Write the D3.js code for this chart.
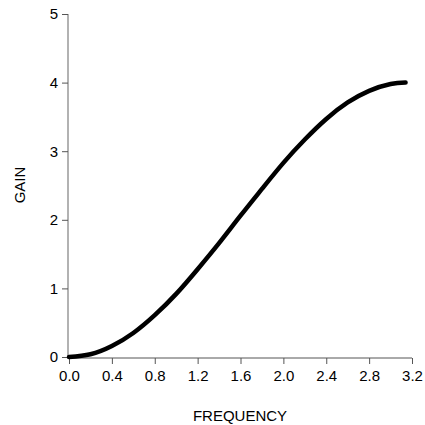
<!DOCTYPE html>
<html>
<head>
<meta charset="utf-8">
<script src="https://cdn.jsdelivr.net/npm/d3@7"></script>
<style>
  body { margin: 0; background: #fff; }
  text { font-family: "Liberation Sans", Arial, sans-serif; font-size: 15px; }
</style>
</head>
<body>
<div id="chart"></div>
<script>
const width = 425;
const height = 425;

// values
const freq = [0, 0.2, 0.4, 0.6, 0.8, 1.0, 1.2, 1.4, 1.6, 1.8, 2.0, 2.2, 2.4, 2.6, 2.8, 3.0, 3.14];
const gain = [0, 0.04, 0.16, 0.35, 0.61, 0.92, 1.28, 1.66, 2.06, 2.45, 2.83, 3.17, 3.47, 3.71, 3.88, 3.98, 4.0];
const xTicks = [0, 0.4, 0.8, 1.2, 1.6, 2.0, 2.4, 2.8, 3.2];
const yTicks = [0, 1, 2, 3, 4, 5];

const svg = d3.select("#chart")
  .append("svg")
  .attr("width", width)
  .attr("height", height);

const x = d3.scaleLinear().domain([0, 3.2]).range([69, 412]);
const y = d3.scaleLinear().domain([0, 5]).range([357, 14]);

// y axis
const yAxis = svg.append("g")
  .attr("transform", "translate(68,0)")
  .call(d3.axisLeft(y).tickValues(yTicks).tickFormat(d3.format("d")).tickSize(6).tickPadding(4));
yAxis.select(".domain").attr("stroke", "#999").attr("stroke-width", 1.5).attr("d", "M0," + y(5) + "V" + y(0));
yAxis.selectAll(".tick line").attr("stroke", "#555");
yAxis.selectAll(".tick text").style("font-size", "15px").attr("fill", "#000");

// x axis
const xAxis = svg.append("g")
  .attr("transform", "translate(0,358)")
  .call(d3.axisBottom(x).tickValues(xTicks).tickFormat(d3.format(".1f")).tickSize(6).tickPadding(6));
xAxis.select(".domain").attr("stroke", "#555").attr("d", "M" + x(0) + ",0H" + x(3.2));
xAxis.selectAll(".tick line").attr("stroke", "#555");
xAxis.selectAll(".tick text").style("font-size", "15px").attr("fill", "#000");

// axis titles
svg.append("text")
  .attr("x", 240).attr("y", 421)
  .attr("text-anchor", "middle")
  .text("FREQUENCY");

svg.append("text")
  .attr("transform", "translate(25,185) rotate(-90)")
  .attr("text-anchor", "middle")
  .text("GAIN");

// curve
const line = d3.line()
  .x((d, i) => x(freq[i]))
  .y(d => y(d))
  .curve(d3.curveNatural);

svg.append("path")
  .datum(gain)
  .attr("fill", "none")
  .attr("stroke", "#000")
  .attr("stroke-width", 4.5)
  .attr("stroke-linecap", "round")
  .attr("d", line);
</script>
</body>
</html>
